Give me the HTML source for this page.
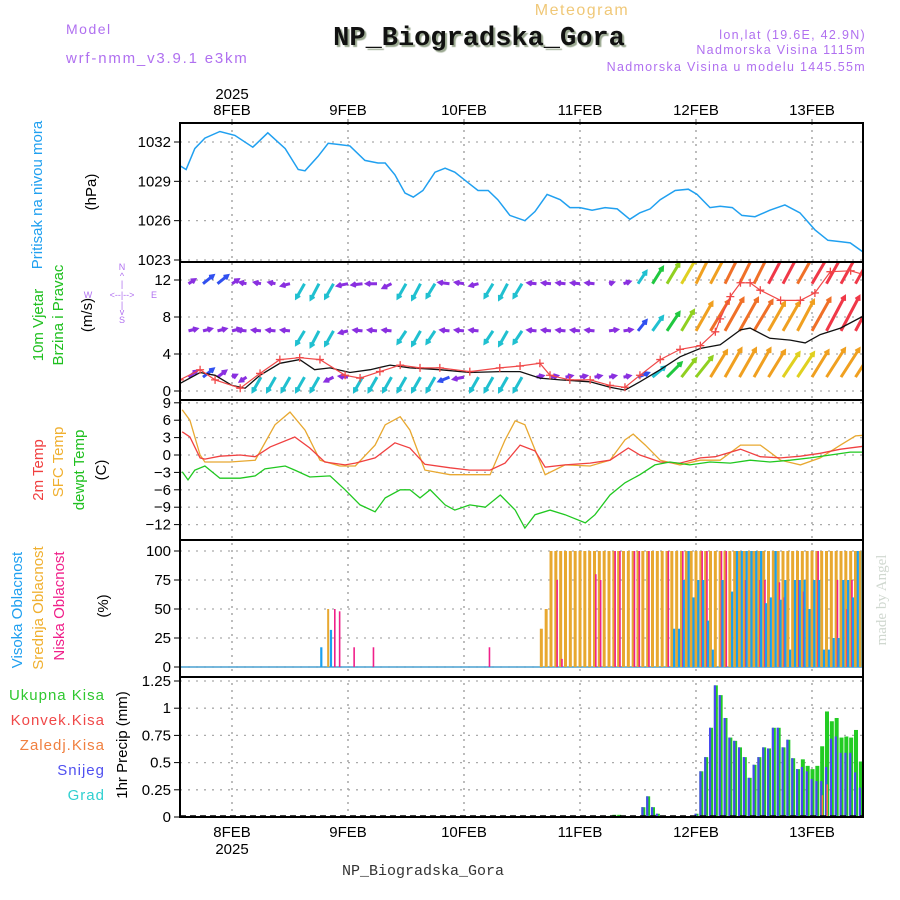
<!DOCTYPE html>
<html><head><meta charset="utf-8"><style>
html,body{margin:0;padding:0;background:#fff;width:900px;height:900px;overflow:hidden}
svg{display:block;font-family:"Liberation Sans",sans-serif}
</style></head><body>
<svg id="chart" width="900" height="900" viewBox="0 0 900 900" xmlns="http://www.w3.org/2000/svg">
<defs>
<clipPath id="cP"><rect x="180" y="123" width="683" height="139"/></clipPath>
<clipPath id="cW"><rect x="180" y="262" width="683" height="138"/></clipPath>
<clipPath id="cT"><rect x="180" y="400" width="683" height="140"/></clipPath>
<clipPath id="cC"><rect x="180" y="540" width="683" height="137"/></clipPath>
<clipPath id="cR"><rect x="180" y="677" width="683" height="140"/></clipPath>
</defs>
<g id="grid"></g>
<g id="marks"></g>
<g id="frames"></g>
<g id="ticks" font-size="15" fill="#000"></g>

<text x="582" y="15" font-size="16" fill="#f0c878" text-anchor="middle" letter-spacing="1.5">Meteogram</text>
<text x="66" y="34" font-size="14" fill="#b070f0" letter-spacing="1.5">Model</text>
<text x="66" y="63" font-size="15" fill="#b070f0" letter-spacing="1.8">wrf-nmm_v3.9.1 e3km</text>
<text x="479" y="45" font-family="Liberation Mono,monospace" font-weight="bold" font-size="27" fill="#111" text-anchor="middle" style="text-shadow:2px 2px 1px #9aa890">NP_Biogradska_Gora</text>
<text x="866" y="39" font-size="12.5" fill="#b070f0" text-anchor="end" letter-spacing="1.3">lon,lat (19.6E, 42.9N)</text>
<text x="866" y="54" font-size="12.5" fill="#b070f0" text-anchor="end" letter-spacing="1.3">Nadmorska Visina 1115m</text>
<text x="866" y="71" font-size="12.5" fill="#b070f0" text-anchor="end" letter-spacing="1.3">Nadmorska Visina u modelu 1445.55m</text>
<text x="423" y="875" font-family="Liberation Mono,monospace" font-size="15" fill="#333" text-anchor="middle">NP_Biogradska_Gora</text>
<text transform="translate(886,600) rotate(-90)" font-family="Liberation Serif,serif" font-size="15" fill="#d0d8d0" text-anchor="middle">made by Angel</text>

<g font-size="15">
<text transform="translate(42,195) rotate(-90)" fill="#20a0f0" text-anchor="middle">Pritisak na nivou mora</text>
<text transform="translate(96,192) rotate(-90)" fill="#000" text-anchor="middle">(hPa)</text>
</g>
<g font-size="15">
<text transform="translate(43,325) rotate(-90)" fill="#20c020" text-anchor="middle">10m Vjetar</text>
<text transform="translate(63,315) rotate(-90)" fill="#20c020" text-anchor="middle">Brzina i Pravac</text>
<text transform="translate(92,315) rotate(-90)" fill="#000" text-anchor="middle">(m/s)</text>
</g>
<g font-size="9" fill="#b070f0" text-anchor="middle">
<text x="122" y="270">N</text><text x="122" y="279">^</text><text x="122" y="287">|</text>
<text x="88" y="298">W</text><text x="122" y="298">&lt;--|--&gt;</text><text x="154" y="298">E</text>
<text x="122" y="308">|</text><text x="122" y="315">v</text><text x="122" y="323">S</text>
</g>
<g font-size="15">
<text transform="translate(43,470) rotate(-90)" fill="#f04040" text-anchor="middle">2m Temp</text>
<text transform="translate(63,462) rotate(-90)" fill="#f0b030" text-anchor="middle">SFC Temp</text>
<text transform="translate(84,470) rotate(-90)" fill="#20c020" text-anchor="middle">dewpt Temp</text>
<text transform="translate(106,470) rotate(-90)" fill="#000" text-anchor="middle">(C)</text>
</g>
<g font-size="15">
<text transform="translate(22,610) rotate(-90)" fill="#20a0f0" text-anchor="middle">Visoka Oblacnost</text>
<text transform="translate(43,608) rotate(-90)" fill="#f0b030" text-anchor="middle">Srednja Oblacnost</text>
<text transform="translate(64,606) rotate(-90)" fill="#f0208a" text-anchor="middle">Niska Oblacnost</text>
<text transform="translate(108,606) rotate(-90)" fill="#000" text-anchor="middle">(%)</text>
</g>
<g font-size="15" text-anchor="end" letter-spacing="1">
<text x="105" y="700" fill="#30c830">Ukupna Kisa</text>
<text x="105" y="725" fill="#f04848">Konvek.Kisa</text>
<text x="105" y="750" fill="#f08040">Zaledj.Kisa</text>
<text x="105" y="775" fill="#5050f0">Snijeg</text>
<text x="105" y="800" fill="#30d0d0">Grad</text>
</g>
<text transform="translate(127,745) rotate(-90)" font-size="15" fill="#000" text-anchor="middle">1hr Precip (mm)</text>
</svg>
<script>
// ---------- data ----------
const dayLabels=["8FEB","9FEB","10FEB","11FEB","12FEB","13FEB"];
const dayHours=[0,24,48,72,96,120];
const pTicks=[1023,1026,1029,1032];
const wTicks=[0,4,8,12];
const tTicks=[-12,-9,-6,-3,0,3,6,9];
const cTicks=[0,25,50,75,100];
const rTicks=[0,0.25,0.5,0.75,1,1.25];
const rTickLabels=["0","0.25","0.5","0.75","1","1.25"];

const pHours=[-10.8,-9.5,-7.7,-5.6,-2.5,0.6,4.3,7.4,11,13.7,15.1,17.8,19.9,22.3,24.4,27.5,30.2,31.7,33.7,35.8,37.5,39.5,42,44.1,46.1,48.8,50.9,53,55,57.5,60.6,62.7,65.2,67.9,69.9,72,74.5,77.2,79.7,82.3,84.4,86.5,88.6,91.7,94.4,96.2,98.9,101,103.5,105.5,108.2,111.3,114.4,117.5,120.6,123.3,125.8,127.9,130.6];
const pValues=[1030.2,1029.9,1031.5,1032.3,1032.8,1032.5,1031.6,1032.7,1031.5,1029.9,1029.8,1030.9,1031.9,1031.8,1031.7,1030.6,1030.4,1030.4,1029.5,1028.1,1027.8,1028.3,1029.7,1030.0,1029.7,1028.9,1028.3,1028.3,1027.6,1026.4,1026.0,1026.7,1028.0,1027.6,1027.0,1027.0,1026.8,1027.0,1026.9,1026.1,1026.6,1026.9,1027.6,1028.3,1028.4,1028.0,1027.0,1027.1,1027.0,1026.4,1026.3,1026.8,1027.2,1026.6,1025.3,1024.5,1024.4,1024.3,1023.6];

const t2Hours=[-10.3,-8.7,-6.6,-5.6,-2.5,1.7,4.8,7.9,13,16.1,19.2,23.4,25.5,29.6,33.7,36.8,39.9,45.1,49.2,53.4,56.5,59.6,62.7,64.8,68.9,74.1,78.2,82,84.4,88.6,92.7,96.9,100,105.2,109.3,113.5,117.6,121.7,125.9,130.6];
const t2Values=[4.0,3.1,-0.5,-0.7,-0.2,0,-0.3,1.4,3.1,1.2,-1.2,-1.7,-1.4,-0.5,2.1,1.2,-1.6,-2.2,-2.6,-2.6,-1.4,1.7,0.7,-2.1,-1.7,-1.4,-0.9,1.2,0,-1.2,-1.4,-0.5,-0.3,1.0,-0.3,-0.5,-0.2,0.3,1.0,1.5];
const sfcHours=[-10.3,-8.7,-6.6,-5.6,-0.4,4.8,8.9,12,15.1,18.2,22.3,25.5,29.6,31.7,34.8,36.8,39.9,45.1,50.3,53.4,56.5,58.6,60.6,62.7,64.8,68.9,74.1,78.2,81.3,83,85.5,88.6,92.7,96.9,101,105.2,109.3,113.5,117.6,121.7,125.9,129,130.6];
const sfcValues=[7.8,6.0,0,-1.2,-1.2,-0.9,5.2,7.4,4.3,-0.9,-1.9,-1.9,1.7,5.2,6.6,4.3,-2.6,-3.4,-3.4,-3.4,2.6,5.9,5.2,0.9,-3.4,-1.7,-1.9,-0.9,2.6,3.6,1.7,-0.9,-1.7,-0.9,-0.9,1.7,1.7,-0.9,-1.7,-0.5,1.7,3.3,3.4];
const tdHours=[-10.3,-9.1,-7.7,-5.6,-2.5,1.7,4.8,6.8,11,13,16.1,20.3,23.4,26.5,29.6,31.7,34.8,36.8,38.9,41,44.1,46.1,49.2,52.4,55.5,58.6,60.6,62.7,65.8,68.9,73.1,75.1,78.2,81.3,84.4,87.5,90.6,94.7,98.9,103.1,107.2,111.3,115.5,119.6,123.8,127.9,130.6];
const tdValues=[-2.9,-4.3,-2.6,-1.9,-4.0,-4.0,-3.6,-2.4,-1.9,-2.6,-3.8,-3.6,-6.0,-8.6,-9.8,-7.4,-6.0,-6.0,-7.4,-6.0,-8.6,-9.5,-8.6,-9.0,-6.9,-9.5,-12.6,-10.3,-9.5,-10.3,-11.7,-10.3,-6.9,-4.8,-3.4,-1.7,-1.2,-1.7,-1.2,-1.4,-0.9,-1.2,-0.9,-0.5,0,0.5,0.5];

const wsHours=[-10.8,-6.6,-3.5,0,2.7,5.8,9.9,14,17.1,20.3,24.4,28.6,32.7,36.8,43,49.2,55.4,59.6,63.7,67.9,74.1,78.2,81.3,84.4,88.6,92.7,96.9,101,105.2,107.2,111.3,115.5,118.6,121.7,125.9,130.6];
const wsValues=[0.8,2.0,1.7,0.6,0.3,1.7,3.0,3.4,2.3,2.5,2.0,2.3,2.8,2.5,2.3,2.0,2.1,2.1,1.4,1.2,1.0,0.4,0.1,1.0,2.3,3.7,4.6,5.0,6.6,6.8,5.7,5.5,5.2,6.1,6.8,8.1];
const gustHours=[-10.8,-6.6,-3.5,1.7,5.8,9.9,14,18.2,23.4,26.5,30.6,34.8,38.9,43,49.2,55.4,59.6,63.7,65.8,69.9,74.1,78.2,81.3,84.4,88.6,92.7,96.9,100,101,103.1,105.2,107.2,109.3,113.5,117.6,120.6,123.8,128,130.6];
const gustValues=[1.2,2.3,1.2,0.3,1.9,3.4,3.6,3.4,1.7,1.4,2.1,2.8,2.5,2.5,2.1,2.5,2.7,3.0,1.7,1.2,1.2,0.6,0.4,1.7,3.4,4.5,4.9,6.4,7.8,10.2,11.7,11.7,10.9,9.8,9.8,10.6,12.9,13.0,12.6];

// wind rows: baseline level, u and v (m/s) every 3h from t=-9
const windStart=-9;
const rowLevels=[11.6,6.5,1.5];
const uA=[1.5,2.5,2.5,1.5,-1.5,-1.5,-1.5,-2,-2,-2,-2,-2.5,-2.5,-2.5,-2,-2,-2,-2,-2.5,-2,-2,-2,-2,-2,-2,-2,-2,-2,-2,1,1.5,2,2.5,3,3.5,3.5,4,4,4,4,4.5,4.5,4.5,5,5,5,5];
const vA=[1,2,2,1,0.3,0.3,0.3,-0.5,-3.5,-3.8,-3.5,-0.5,-0.3,0,-1,-3.5,-3.8,-3.3,0.3,0.3,-0.5,-3.3,-3.8,-3.3,0.2,0.2,0.2,0.2,0.2,0.3,0.5,3,4,5,6,7,7.5,8,8,8,8.5,8.5,8,8.5,9,9,9];
const uB=[2,2,2,2,-2,-2,-2,-2,-2,-2,-2,-2,-2,-2,-2,-2,-2,-2,-2,-2,-2,-2,-2,-2,-2,-2,-2,-2,-2,2,2,2,2.5,3,3,4,4.5,4.5,4.5,4.5,4,4,4,4.5,4.5,4.5,4.5];
const vB=[0.5,0.5,0.5,0.5,0.2,0.2,0.2,0.2,-3.3,-3.8,-3.5,-0.5,0.2,0.2,0.2,-3,-3.5,-3,0.2,0.2,0.2,-3,-3.5,-3,0.2,0.2,0.2,0.2,0.2,0.3,0.3,2.5,3.5,4.5,5,7,7.5,8,8,7.5,7,7,7.5,8,8.5,8.5,8.5];
const uC=[2,2.5,2,1,-1.5,-2,-2,-2,-2,-2,-2,-2,-2,-2,-2,-2,-2,-2,-2.5,-2.5,-2,-2,-2,-2,1.5,1.5,1.5,1.5,1.5,1.5,1.5,2.5,3,3.5,3.5,4,4,4,4,4,4,4,4,4,4.5,4.5,4.5];
const vC=[1.5,2,1.5,0.5,-1,-3.5,-3.5,-3.5,-3.5,-3.5,-1,0.2,-3.5,-3.5,-3.5,-3.5,-3.5,-3.5,-1,-0.5,-3.5,-3.5,-3.5,-3.5,0.3,0.3,0.3,0.3,0.3,0.3,0.3,1,2.5,3.5,4.5,5,6.5,7,7,7,6.5,6,6,6.5,7,7,7];

// cloud cover (%)
const midStart=60;
const midValues=[0,0,0,0,33,50,100,100,100,100,100,100,100,100,100,100,100,100,100,100,100,100,100,100,100,100,100,100,100,100,100,100,100,100,100,100,100,100,100,100,100,100,100,100,100,100,100,100,100,100,100,100,100,100,100,100,100,100,100,100,100,100,100,100,100,100,100,100,100,100,100];
const midEarlyHours=[20];
const midEarlyValues=[50];
const lowHours=[21,22,25,29,53,67,68,75,76,79,80,83,84,86,90,93,97,98,101,102,106,109,110,113,114,117,118,121,125,127,128];
const lowValues=[50,48,17,17,17,75,7,80,75,100,100,100,100,100,100,100,100,100,100,100,75,75,75,73,60,75,65,100,75,50,75];
const highHours=[18,20,91,92,93,94,95,96,97,98,99,101,103,104,105,106,107,108,109,110,111,112,113,114,115,116,117,118,119,120,121,122,123,124,125,126,127,128,129,130];
const highValues=[17,32,33,33,75,100,60,75,75,40,15,75,65,100,100,100,100,100,100,55,60,100,58,75,15,75,75,75,50,75,75,15,15,25,25,75,75,60,100,100];

// precipitation (mm/h)
const totHours=[78,79,80,85,86,87,88,96,97,98,99,100,101,102,103,104,105,106,107,108,109,110,111,112,113,114,115,116,117,118,119,120,121,122,123,124,125,126,127,128,129,130];
const totValues=[0.01,0.02,0.02,0.09,0.19,0.09,0.03,0.03,0.42,0.55,0.82,1.21,1.12,0.91,0.73,0.70,0.64,0.55,0.36,0.48,0.55,0.64,0.63,0.82,0.82,0.64,0.71,0.54,0.44,0.53,0.47,0.44,0.47,0.65,0.97,0.88,0.91,0.73,0.74,0.73,0.80,0.51];
const snowHours=[85,86,87,88,96,97,98,99,100,101,102,103,104,105,106,107,108,109,110,111,112,113,114,115,116,117,118,119,120,121,122,123,124,125,126,127,128,129,130];
const snowValues=[0.09,0.19,0.09,0.03,0.03,0.42,0.55,0.82,1.21,1.12,0.91,0.73,0.70,0.64,0.55,0.36,0.48,0.55,0.64,0.63,0.82,0.82,0.64,0.71,0.54,0.44,0.46,0.42,0.35,0.33,0.33,0.46,0.72,0.74,0.59,0.59,0.59,0.41,0.27];
const frzHours=[122,123];
const frzValues=[0.2,0.3];

// ---------- axes ----------
const NS="http://www.w3.org/2000/svg";
const L=180,R=863;
const xOf=t=>232+t*116/24;
const yP=v=>142+(1032-v)*13.11;
const yW=v=>391-v*9.25;
const yT=v=>455-v*5.8;
const yC=v=>667-v*1.16;
const yR=v=>817-v*108.8;
const panels=[[123,262],[262,400],[400,540],[540,677],[677,817]];

function el(tag,attrs,parent){const e=document.createElementNS(NS,tag);for(const k in attrs)e.setAttribute(k,attrs[k]);parent.appendChild(e);return e;}
const grid=document.getElementById('grid'),marks=document.getElementById('marks'),frames=document.getElementById('frames'),ticks=document.getElementById('ticks');

dayHours.forEach((h,i)=>{
  const x=xOf(h);
  const g=el('line',{x1:x,x2:x,y1:123,y2:817,stroke:'#999','stroke-width':1.3,'stroke-dasharray':'2,5'},grid);
  
  
  const t1=el('text',{x:x,y:115,'text-anchor':'middle','font-size':15},ticks);t1.textContent=dayLabels[i];
  
  
  const t2=el('text',{x:x,y:837,'text-anchor':'middle','font-size':15},ticks);t2.textContent=dayLabels[i];
  
  
  el('line',{x1:x,x2:x,y1:119,y2:125,stroke:'#666','stroke-width':1},frames);
});
(function(){const a=el('text',{x:xOf(0),y:99,'text-anchor':'middle','font-size':15},ticks);a.textContent='2025';


const b=el('text',{x:xOf(0),y:854,'text-anchor':'middle','font-size':15},ticks);b.textContent='2025';

})();

function yTicks(vals,labels,fy,name){
  vals.forEach((v,i)=>{const y=fy(v);
    const g=el('line',{x1:L,x2:R,y1:y,y2:y,stroke:'#aaa','stroke-width':1.3,'stroke-dasharray':'2,6'},grid);
    
    
    el('line',{x1:L-6,x2:L,y1:y,y2:y,stroke:'#000','stroke-width':1},frames);
    const t=el('text',{x:L-9,y:y+5,'text-anchor':'end'},ticks);t.textContent=labels?labels[i]:String(v);
    
    
  });
}
yTicks(pTicks,null,yP,'pressure');
yTicks(wTicks,null,yW,'wind');
yTicks(tTicks,tTicks.map(v=>v<0?'\u2212'+(-v):String(v)),yT,'temp');
yTicks(cTicks,null,yC,'cloud');
yTicks(rTicks,rTickLabels,yR,'precip');

panels.forEach(p=>{const r=el('rect',{x:L,y:p[0],width:R-L,height:p[1]-p[0],fill:'none',stroke:'#000','stroke-width':2},frames);

});

function line(hours,vals,fy,color,clip,name,w){
  const d=hours.map((h,i)=>(i?'L':'M')+xOf(h).toFixed(1)+','+fy(vals[i]).toFixed(1)).join('');
  const p=el('path',{d:d,fill:'none',stroke:color,'stroke-width':w||1.3,'clip-path':'url(#'+clip+')'},marks);
  
  
}
line(pHours,pValues,yP,'#20a0f0','cP','pressure-line',1.5);
line(sfcHours,sfcValues,yT,'#e8a830','cT','sfc-temp-line');
line(t2Hours,t2Values,yT,'#f04040','cT','2m-temp-line');
line(tdHours,tdValues,yT,'#20c820','cT','dewpoint-line');

function wcol(s){if(s<2.6)return'#8a30e0';if(s<3.5)return'#3050f0';if(s<4.5)return'#20c0d0';if(s<5.6)return'#20c840';if(s<6.6)return'#90d020';if(s<7.6)return'#e0d020';if(s<8.6)return'#f0a020';if(s<9.6)return'#f07028';return'#f03848';}
const gw=el('g',{'clip-path':'url(#cW)'},marks);


[[uA,vA],[uB,vB],[uC,vC]].forEach((uv,r)=>{
  const y0=yW(rowLevels[r]);
  uv[0].forEach((u,i)=>{const v=uv[1][i];const s=Math.hypot(u,v);
    const x0=xOf(windStart+3*i),x1=x0+u*4,y1=y0-v*4,c=wcol(s);
    const a=Math.atan2(y1-y0,x1-x0);
    const hx1=x1-4*Math.cos(a-0.5),hy1=y1-4*Math.sin(a-0.5),hx2=x1-4*Math.cos(a+0.5),hy2=y1-4*Math.sin(a+0.5);
    const p=el('path',{d:`M${x0},${y0}L${x1},${y1}M${hx1},${hy1}L${x1},${y1}L${hx2},${hy2}`,stroke:c,'stroke-width':3,fill:'none'},gw);
    
    
  });
});
line(wsHours,wsValues,yW,'#111','cW','wind-speed-line',1.3);
line(gustHours,gustValues,yW,'#f04848','cW','wind-gust-line',1.2);
gustHours.forEach((h,i)=>{const x=xOf(h),y=yW(gustValues[i]);
  const p=el('path',{d:`M${x-4},${y}H${x+4}M${x},${y-4}V${y+4}`,stroke:'#f04848','stroke-width':1.3,'clip-path':'url(#cW)'},marks);
  
  
});

const gc=el('g',{'clip-path':'url(#cC)'},marks);


(function(){const b=el('line',{x1:L,x2:R,y1:yC(0),y2:yC(0),stroke:'#4aa0d0','stroke-width':1.5},gc);

})();
function bar(g,h,v,fy,color,dx,w,name){if(v<=0)return;const x=xOf(h)+dx,y=fy(v);
  const r=el('rect',{x:x,y:y,width:w,height:fy(0)-y,fill:color},g);
  
  }
midEarlyHours.forEach((h,i)=>bar(gc,h,midEarlyValues[i],yC,'#e8a830',-1.5,2,'mid-cloud-bar'));
midValues.forEach((v,i)=>bar(gc,midStart+i,v,yC,'#e8a830',-1.5,3,'mid-cloud-bar'));
lowHours.forEach((h,i)=>bar(gc,h,lowValues[i],yC,'#f0208a',0.5,1.6,'low-cloud-bar'));
highHours.forEach((h,i)=>bar(gc,h,highValues[i],yC,'#1aa0f0',1.2,2.2,'high-cloud-bar'));

const gr=el('g',{'clip-path':'url(#cR)'},marks);


totHours.forEach((h,i)=>bar(gr,h,totValues[i],yR,'#22cc22',-1.5,4,'total-precip-bar'));
snowHours.forEach((h,i)=>bar(gr,h,snowValues[i],yR,'#4848f0',-1.5,2.2,'snow-bar'));
frzHours.forEach((h,i)=>bar(gr,h,frzValues[i],yR,'#f08030',0,1.5,'freezing-rain-bar'));
(function(){const b=el('line',{x1:L,x2:R,y1:yR(0)-1,y2:yR(0)-1,stroke:'#000','stroke-width':1.5,'stroke-dasharray':'6,4'},gr);

})();
</script>
</body></html>
